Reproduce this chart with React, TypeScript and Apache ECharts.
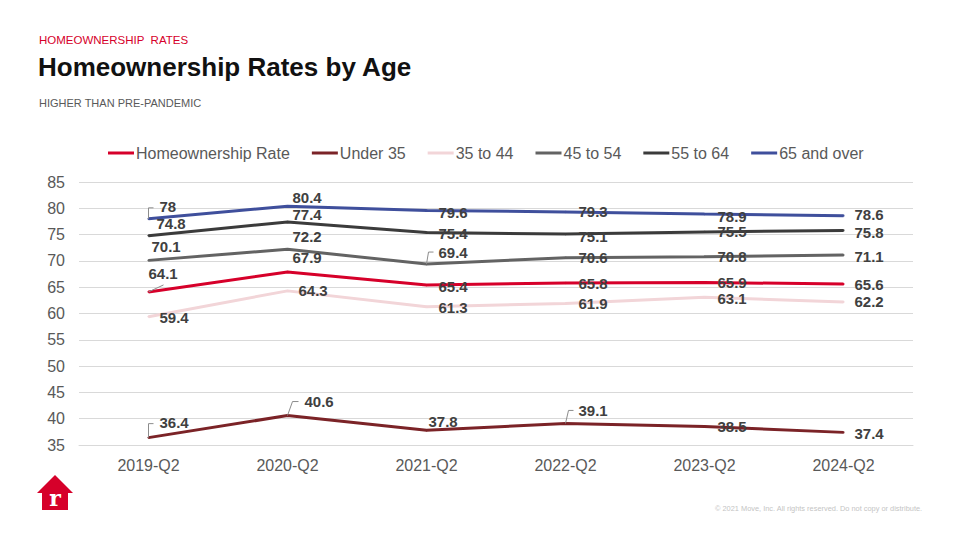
import React, { useEffect, useRef } from "react";
import * as echarts from "echarts";

const categories = ["2019-Q2", "2020-Q2", "2021-Q2", "2022-Q2", "2023-Q2", "2024-Q2"];
const seriesNames = ["Homeownership Rate", "Under 35", "35 to 44", "45 to 54", "55 to 64", "65 and over"];
const homeownershipRate = [64.1, 67.9, 65.4, 65.8, 65.9, 65.6];
const under35 = [36.4, 40.6, 37.8, 39.1, 38.5, 37.4];
const age35to44 = [59.4, 64.3, 61.3, 61.9, 63.1, 62.2];
const age45to54 = [70.1, 72.2, 69.4, 70.6, 70.8, 71.1];
const age55to64 = [74.8, 77.4, 75.4, 75.1, 75.5, 75.8];
const age65plus = [78, 80.4, 79.6, 79.3, 78.9, 78.6];
const yMin = 35;
const yMax = 85;
const yStep = 5;

const seriesValues = [homeownershipRate, under35, age35to44, age45to54, age55to64, age65plus];
const seriesColors = ["#d6002a", "#7b2327", "#f2d5d8", "#636363", "#3b3b3b", "#3f4f9c"];

// manual label nudges (like hand-placed Excel data labels), per series / point
const labelNudges: number[][][] = [
  [[-11, -18], [-6, -14], [1, 1], [2, 1], [2, 0], [0, 0]],
  [[0, -15], [6, -14], [-9, -9], [2, -13], [2, 0], [0, 1]],
  [[0, 1], [0, 0], [1, 1], [2, 0], [2, 1], [0, 0]],
  [[-8, -14], [-6, -13], [1, -12], [2, 0], [2, 0], [0, 1]],
  [[-3, -12], [-6, -7], [1, 1], [2, 2], [2, 0], [0, 2]],
  [[0, -12], [-6, -9], [1, 2], [2, 0], [2, 2], [0, -1]],
];

// leader lines from point to moved label
const leaders = [
  { s: 5, i: 0, pts: [[0, 0], [0, -11], [5, -11]] },
  { s: 1, i: 0, pts: [[0, 0], [0, -14], [5, -14]] },
  { s: 1, i: 1, pts: [[0, 0], [5, -14], [11, -14]] },
  { s: 3, i: 2, pts: [[0, 0], [2, -12], [7, -12]] },
  { s: 1, i: 3, pts: [[0, 0], [3, -13], [8, -13]] },
  { s: 0, i: 0, pts: [[0, 0], [15, -7]] },
];

const FONT = "'Liberation Sans', Arial, sans-serif";

export default function App() {
  const ref = useRef<HTMLDivElement>(null);

  useEffect(() => {
    if (!ref.current) return;
    const chart = echarts.init(ref.current, undefined, { renderer: "svg" });

    const lineSeries = seriesNames.map((name, s) => ({
      name,
      type: "line",
      data: seriesValues[s].map((v, i) => ({
        value: v,
        label: { offset: labelNudges[s][i] },
      })),
      symbol: "circle",
      symbolSize: 2,
      showSymbol: true,
      lineStyle: { color: seriesColors[s], width: 3 },
      itemStyle: { color: seriesColors[s] },
      label: {
        show: true,
        position: "right",
        distance: 10,
        fontFamily: FONT,
        fontSize: 15,
        fontWeight: "bold",
        color: "#404040",
      },
      z: 3,
    }));

    const leaderSeries = {
      type: "custom",
      name: "leaders",
      silent: true,
      z: 4,
      data: leaders.map((l) => [l.i, seriesValues[l.s][l.i]]),
      renderItem: (params: any, api: any) => {
        const c = api.coord([api.value(0), api.value(1)]);
        const l = leaders[params.dataIndex];
        return {
          type: "polyline",
          shape: { points: l.pts.map(([dx, dy]) => [c[0] + dx, c[1] + dy]) },
          style: { stroke: "#8c8c8c", lineWidth: 1, fill: null },
        };
      },
    };

    const option: any = {
      animation: false,
      backgroundColor: "#ffffff",
      textStyle: { fontFamily: FONT },
      legend: {
        data: seriesNames.map((n, s) => ({ name: n, icon: "rect", itemStyle: { color: seriesColors[s] } })),
        left: 103,
        top: 140,
        itemWidth: 26,
        itemHeight: 3,
        itemGap: 22,
        textStyle: { fontFamily: FONT, fontSize: 16, color: "#595959", padding: [0, 0, 0, -3] },
      },
      grid: { left: 79, right: 47, top: 182, bottom: 95 },
      xAxis: {
        type: "category",
        data: categories,
        boundaryGap: true,
        axisLine: { show: true, lineStyle: { color: "#d9d9d9", width: 1 } },
        axisTick: { show: false },
        axisLabel: { fontFamily: FONT, fontSize: 16, color: "#595959", margin: 12 },
      },
      yAxis: {
        type: "value",
        min: yMin,
        max: yMax,
        interval: yStep,
        axisLine: { show: false },
        axisTick: { show: false },
        splitLine: { lineStyle: { color: "#d9d9d9", width: 1 } },
        axisLabel: { fontFamily: FONT, fontSize: 16, color: "#595959", margin: 14 },
      },
      series: [...lineSeries, leaderSeries],
      graphic: [
        {
          type: "text",
          left: 39,
          top: 34,
          style: { text: "HOMEOWNERSHIP  RATES", fontFamily: FONT, fontSize: 11.5, fill: "#d6002a" },
        },
        {
          type: "text",
          left: 38,
          top: 54,
          style: { text: "Homeownership Rates by Age", fontFamily: FONT, fontSize: 26, fontWeight: "bold", fill: "#111111" },
        },
        {
          type: "text",
          left: 39,
          top: 97,
          style: { text: "HIGHER THAN PRE-PANDEMIC", fontFamily: FONT, fontSize: 11, fill: "#595959" },
        },
        {
          type: "polygon",
          shape: {
            points: [[55, 475], [73, 493], [68, 493], [68, 510], [42, 510], [42, 493], [37, 493]],
          },
          style: { fill: "#d6002a" },
        },
        {
          type: "text",
          x: 55,
          y: 498,
          style: {
            text: "r",
            fontFamily: "'DejaVu Serif', 'Liberation Serif', serif",
            fontSize: 22,
            fontWeight: "bold",
            fill: "#ffffff",
            align: "center",
            verticalAlign: "middle",
          },
        },
        {
          type: "text",
          left: 715,
          top: 505,
          style: {
            text: "© 2021 Move, Inc. All rights reserved. Do not copy or distribute.",
            fontFamily: FONT,
            fontSize: 7.4,
            fill: "#c4c4c4",
          },
        },
      ],
    };

    chart.setOption(option);
    return () => chart.dispose();
  }, []);

  return (
    <div
      ref={ref}
      style={{ position: "absolute", left: 0, top: 0, width: 960, height: 540, background: "#fff" }}
    />
  );
}
